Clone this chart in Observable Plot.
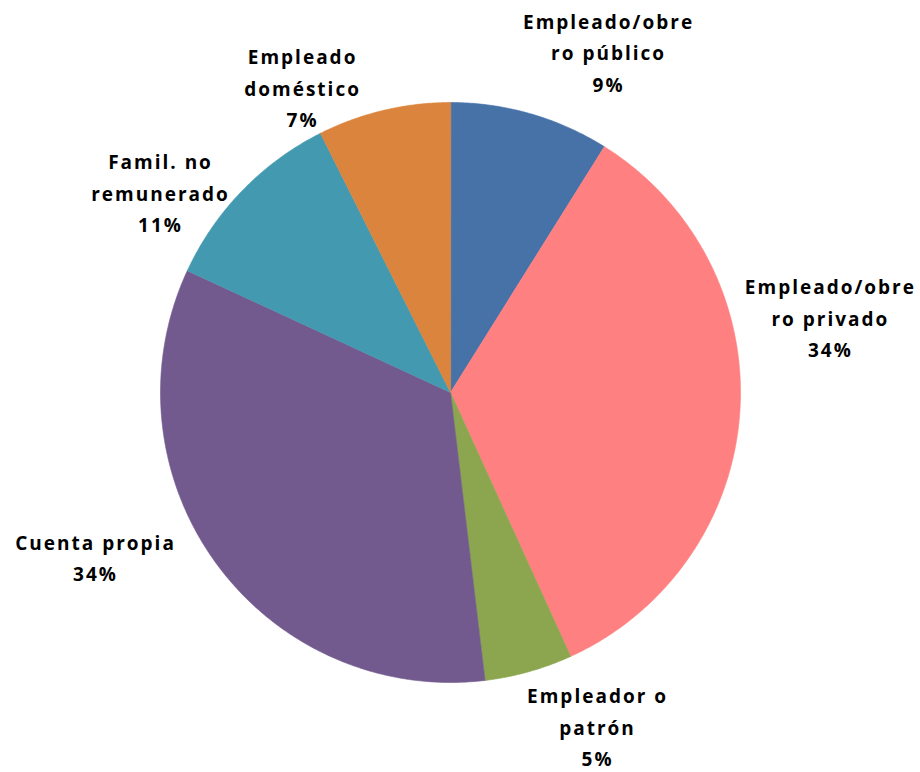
<!DOCTYPE html>
<html>
<head>
<meta charset="utf-8">
<script src="https://cdn.jsdelivr.net/npm/d3@7"></script>
<script src="https://cdn.jsdelivr.net/npm/@observablehq/plot@0.6"></script>
<style>
  html, body { margin: 0; padding: 0; background: #fff; }
  #chart { width: 920px; height: 772px; }
</style>
</head>
<body>
<div id="chart"></div>
<script>
// Data (clockwise from 12 o'clock)
const categories = ["Empleado/obrero público", "Empleado/obrero privado", "Empleador o patrón", "Cuenta propia", "Famil. no remunerado", "Empleado doméstico"];
const labelText = ["Empleado/obre\nro público", "Empleado/obre\nro privado", "Empleador o\npatrón", "Cuenta propia", "Famil. no\nremunerado", "Empleado\ndoméstico"];
const shares = [8.9, 34.3, 4.9, 33.8, 10.7, 7.4];
const colors = ["#4672A8", "#FF8080", "#8BA64F", "#725A8E", "#4399B0", "#DB843D"];

// Build slice polygons in unit-radius coordinates
const total = d3.sum(shares);
const pie = d3.pie().sort(null).value(d => d)(shares);
const polys = [];
pie.forEach((s, i) => {
  const key = categories[i];
  polys.push({key, x: 0, y: 0});
  const n = Math.max(2, Math.ceil((s.endAngle - s.startAngle) / (Math.PI / 360)));
  for (let k = 0; k <= n; k++) {
    const a = s.startAngle + (s.endAngle - s.startAngle) * k / n;
    polys.push({key, x: Math.sin(a), y: Math.cos(a)});
  }
});

// Label anchors (unit-radius coordinates, Excel best-fit placement)
const labelX = [0.545, 1.31, 0.507, -1.224, -1.0, -0.51];
const labelY = [1.18, 0.265, -1.145, -0.562, 0.696, 1.058];
const labels = categories.map((c, i) => ({
  key: c,
  x: labelX[i],
  y: labelY[i],
  text: labelText[i] + "\n" + Math.round(shares[i] / total * 100) + "%"
}));

const chart = Plot.plot({
  width: 920,
  height: 772,
  margin: 0,
  x: {domain: [-450 / 290, 470 / 290], axis: null},
  y: {domain: [-380 / 290, 392 / 290], axis: null},
  color: {domain: categories, range: colors},
  style: {fontFamily: "'Open Sans', sans-serif", background: "#fff"},
  marks: [
    Plot.line(polys, {x: "x", y: "y", z: "key", fill: "key", stroke: "key", strokeWidth: 0.6, curve: "linear-closed"}),
    Plot.text(labels, {x: "x", y: "y", text: "text", fontSize: 19, fontWeight: "bold", lineHeight: 1.66, fill: "#000", textAnchor: "middle"})
  ]
});
chart.querySelectorAll("text").forEach(t => t.style.letterSpacing = "2px");
document.getElementById("chart").appendChild(chart);
</script>
</body>
</html>
